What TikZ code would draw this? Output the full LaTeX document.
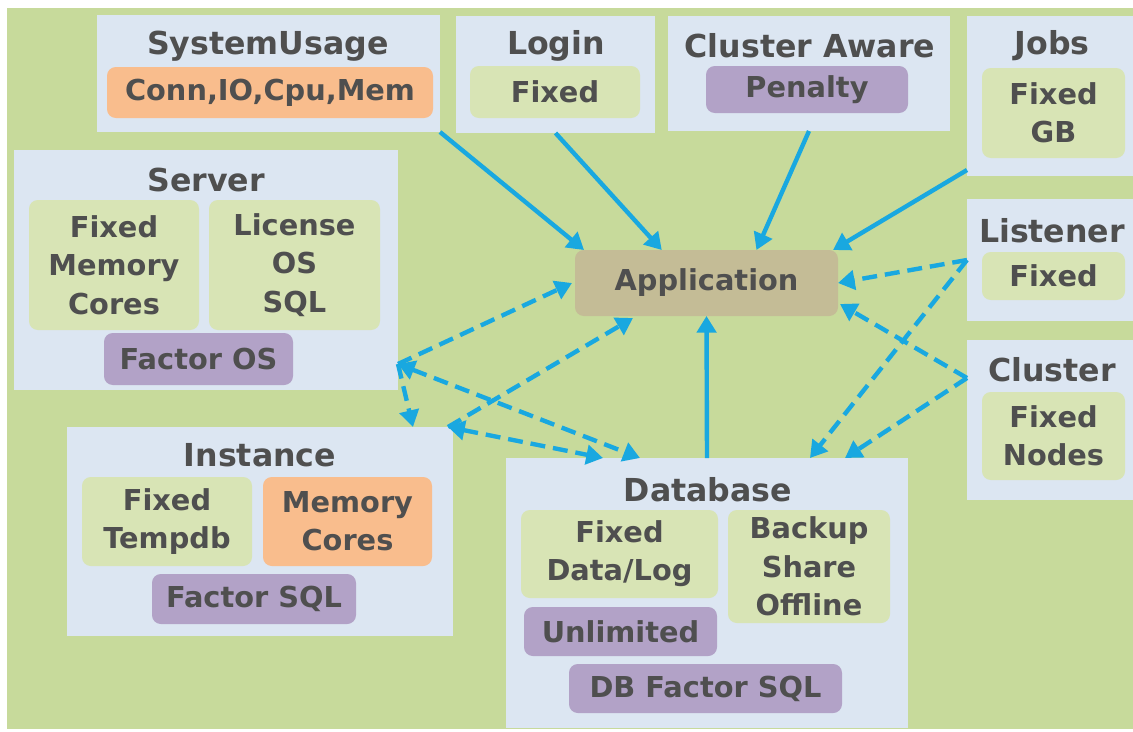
\documentclass[tikz,border=0pt]{standalone}
\usepackage{fontspec}
\setmainfont{DejaVu Sans}
\usetikzlibrary{arrows.meta,calc,fit}
\definecolor{bggreen}{HTML}{C7DA9B}
\definecolor{panelblue}{HTML}{DCE6F2}
\definecolor{fixgreen}{HTML}{D8E4B5}
\definecolor{costorange}{HTML}{F9BD8D}
\definecolor{factorpurple}{HTML}{B2A2C7}
\definecolor{apptan}{HTML}{C4BC96}
\definecolor{inkgray}{HTML}{4F4F4F}
\definecolor{flowblue}{HTML}{19A8E0}
\tikzset{
  panel/.style={fill=panelblue, inner sep=0pt, outer sep=0pt},
  title/.style={text=inkgray, font=\fontsize{18}{21}\selectfont\bfseries},
  cell/.style={fill=#1, rounded corners=5pt, inner sep=0pt, outer sep=0pt},
  celltext/.style={align=center, text=inkgray, inner sep=0pt,
    font=\fontsize{16.4}{21.8}\selectfont\bfseries},
  flow/.style={draw=flowblue, line width=2.5pt, ->},
  link/.style={flow, dash pattern=on 8.5pt off 4.5pt},
  >={Triangle[length=9.5pt,width=11pt]}
}

\begin{document}
\begin{tikzpicture}[x=0.02cm,y=-0.02cm]
\useasboundingbox (0,0) rectangle (1133,731);
\fill[white] (0,0) rectangle (1133,731);
\fill[bggreen] (7,8) rectangle (1133,729);

\node[panel, fit={(97,15) (440,132)}] (usage) {};
\node[panel, fit={(456,16) (655,133)}] (login) {};
\node[panel, fit={(668,16) (950,131)}] (aware) {};
\node[panel, fit={(967,16) (1133,176)}] (jobs) {};
\node[panel, fit={(14,150) (398,390)}] (server) {};
\node[panel, fit={(967,199) (1133,321)}] (listener) {};
\node[panel, fit={(967,340) (1133,500)}] (cluster) {};
\node[panel, fit={(67,427) (453,636)}] (inst) {};
\node[panel, fit={(506,458) (908,728)}] (db) {};

\node[title] (usaget) at (268,46) {SystemUsage};
\node[title] (logint) at (556,46) {Login};
\node[title] (awaret) at (810,46) {Cluster Aware};
\node[title] (jobst) at (1052,46) {Jobs};
\node[title] (servert) at (206,180) {Server};
\node[title] (listenert) at (1052,231) {Listener};
\node[title] (clustert) at (1052,370) {Cluster};
\node[title] (instt) at (260,455) {Instance};
\node[title] (dbt) at (708,490) {Database};

\node[cell=costorange, fit={(107,67) (433,118)}] (usagecost) {};
\node[cell=fixgreen, fit={(470,66) (640,118)}] (loginfix) {};
\node[cell=factorpurple, fit={(706,66) (908,113)}] (awarepen) {};
\node[cell=fixgreen, fit={(982,68) (1125,158)}] (jobsfix) {};
\node[cell=fixgreen, fit={(982,252) (1125,300)}] (listenerfix) {};
\node[cell=fixgreen, fit={(982,392) (1125,480)}] (clusterfix) {};
\node[cell=fixgreen, fit={(29,200) (199,330)}] (serverfix) {};
\node[cell=fixgreen, fit={(209,200) (380,330)}] (serverlic) {};
\node[cell=factorpurple, fit={(104,333) (293,385)}] (serverfac) {};
\node[cell=fixgreen, fit={(82,477) (252,566)}] (instfix) {};
\node[cell=costorange, fit={(263,477) (432,566)}] (instcost) {};
\node[cell=factorpurple, fit={(152,574) (356,624)}] (instfac) {};
\node[cell=fixgreen, fit={(521,510) (718,598)}] (dbfix) {};
\node[cell=fixgreen, fit={(728,510) (890,623)}] (dbbak) {};
\node[cell=factorpurple, fit={(524,607) (717,656)}] (dbunl) {};
\node[cell=factorpurple, fit={(569,664) (842,713)}] (dbfac) {};
\node[cell=apptan, fit={(575,250) (838,316)}] (app) {};

\node[celltext] at (usagecost) {Conn,IO,Cpu,Mem};
\node[celltext] at (loginfix) {Fixed};
\node[celltext] at (awarepen) {Penalty};
\node[celltext] at (jobsfix) {Fixed\\GB};
\node[celltext] at (listenerfix) {Fixed};
\node[celltext] at (clusterfix) {Fixed\\Nodes};
\node[celltext] at (serverfix) {Fixed\\Memory\\Cores};
\node[celltext] at (serverlic) {License\\OS\\SQL};
\node[celltext] at (serverfac) {Factor OS};
\node[celltext] at (instfix) {Fixed\\Tempdb};
\node[celltext] at (instcost) {Memory\\Cores};
\node[celltext] at (instfac) {Factor SQL};
\node[celltext] at (dbfix) {Fixed\\Data/Log};
\node[celltext] at (dbbak) {Backup\\Share\\Offline};
\node[celltext] at (dbunl) {Unlimited};
\node[celltext] at (dbfac) {DB Factor SQL};
\node[celltext] at (app) {Application};

\coordinate (srvhub) at ($(server.south east)+(0,-26)$);
\coordinate (insthub) at ($(inst.north east)+(-5,0)$);
\coordinate (clushub) at ($(cluster.west)+(0,-42)$);

\draw[flow] (usage.south east) -- ($(app.north west)+(9,0)$);
\draw[flow] (login.south) -- ($(app.north west)!.33!(app.north east)$);
\draw[flow] (aware.south) -- ($(app.north west)!.69!(app.north east)$);
\draw[flow] ($(jobs.south west)+(0,-6)$) -- ($(app.north east)+(-5,0)$);
\draw[flow] (db.north) -- (app.south);

\draw[link] (listener.west) -- (app.east);
\draw[link] (listener.west) -- ($(db.north)+(103,0)$);
\draw[link] (clushub) -- ($(app.east)+(2,21)$);
\draw[link] (clushub) -- ($(db.north)+(138,0)$);
\draw[link] (srvhub) -- ($(app.west)+(-3,0)$);
\draw[link] (srvhub) -- ($(inst.north east)+(-40,0)$);
\draw[link, <->] (srvhub) -- ($(db.north west)+(134,0)$);
\draw[link] (insthub) -- ($(app.south west)+(58,2)$);
\draw[link, <->] (insthub) -- ($(db.north west)+(97,0)$);
\end{tikzpicture}
\end{document}
